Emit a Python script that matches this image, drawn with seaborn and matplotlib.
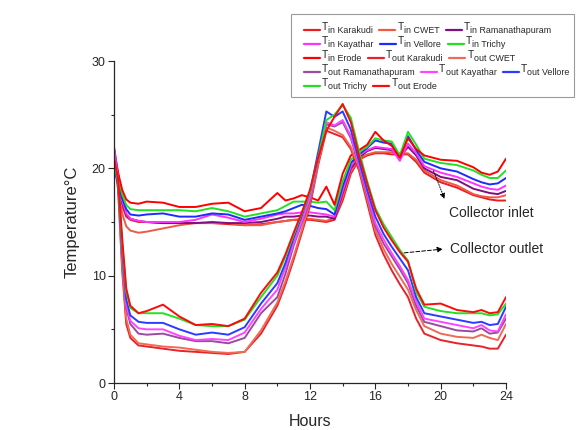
import numpy as np
import pandas as pd
import matplotlib
matplotlib.use("Agg")
import matplotlib.pyplot as plt
from matplotlib.lines import Line2D
from matplotlib.patches import Rectangle
import seaborn as sns

# time grid (hours)
hours = [0, 0.25, 0.5, 0.75, 1, 1.5, 2, 3, 4, 5, 6, 7, 8, 9, 10, 10.5, 11, 11.5, 12, 12.5,
         13, 13.5, 14, 14.5, 15, 15.5, 16, 16.5, 17, 17.5, 18, 18.5, 19, 20, 21, 22, 22.5, 23, 23.5, 24]

sites = ["Karakudi", "CWET", "Ramanathapuram", "Kayathar", "Vellore", "Trichy", "Erode"]

# collector inlet temperatures
tin_karakudi = [21.5, 19.0, 16.5, 15.5, 15.2, 15.0, 15.0, 14.9, 14.9, 14.9, 14.9, 14.8, 14.7, 14.8, 15.0, 15.1, 15.2, 15.2, 15.2, 15.1,
                15.0, 15.2, 17.0, 19.5, 20.8, 21.2, 21.4, 21.4, 21.3, 21.3, 21.3, 20.6, 19.6, 18.7, 18.2, 17.5, 17.3, 17.1, 17.0, 17.0]
tin_cwet = [21.0, 18.5, 15.8, 14.6, 14.2, 14.0, 14.1, 14.4, 14.7, 14.9, 14.9, 14.9, 14.7, 14.7, 15.0, 15.1, 15.2, 15.3, 15.3, 15.2,
            15.1, 15.4, 17.3, 19.7, 20.9, 21.3, 21.5, 21.5, 21.5, 21.4, 21.4, 20.8, 19.8, 18.9, 18.4, 17.6, 17.4, 17.3, 17.3, 17.5]
tin_ramanathapuram = [22.0, 19.5, 16.8, 15.7, 15.3, 15.1, 15.0, 14.9, 14.9, 14.9, 15.0, 14.9, 14.9, 15.0, 15.3, 15.5, 15.5, 15.6, 15.6, 15.5,
                      15.5, 15.3, 17.7, 20.0, 21.0, 21.6, 21.9, 21.8, 21.7, 21.0, 22.0, 21.2, 20.0, 19.2, 18.9, 18.1, 17.9, 17.7, 17.6, 17.9]
tin_kayathar = [21.8, 19.5, 17.0, 15.8, 15.3, 15.1, 15.0, 15.0, 15.0, 15.2, 15.7, 15.4, 15.0, 15.3, 15.7, 15.8, 15.8, 15.9, 15.9, 15.8,
                15.7, 15.5, 17.9, 20.2, 21.2, 21.7, 22.0, 21.9, 21.8, 20.7, 22.3, 21.4, 20.2, 19.6, 19.2, 18.6, 18.3, 18.1, 18.0, 18.4]
tin_vellore = [20.0, 18.8, 17.2, 16.2, 15.7, 15.6, 15.7, 15.8, 15.5, 15.5, 15.8, 15.7, 15.2, 15.5, 15.8, 16.0, 16.3, 16.6, 16.5, 16.3,
               16.2, 15.7, 18.3, 20.5, 21.3, 21.9, 22.6, 22.4, 22.3, 21.1, 23.0, 21.7, 20.6, 20.0, 19.7, 19.0, 18.7, 18.5, 18.6, 19.1]
tin_trichy = [20.4, 19.2, 17.6, 16.6, 16.2, 16.1, 16.1, 16.1, 16.1, 16.0, 16.3, 16.0, 15.5, 15.8, 16.1, 16.5, 16.9, 16.9, 16.9, 16.8,
              16.9, 16.1, 18.8, 20.8, 21.5, 22.0, 22.8, 22.6, 22.5, 21.2, 23.4, 22.2, 20.9, 20.5, 20.3, 19.8, 19.4, 19.1, 19.1, 19.8]
tin_erode = [21.2, 19.6, 18.0, 17.1, 16.8, 16.7, 16.9, 16.8, 16.4, 16.4, 16.7, 16.8, 16.0, 16.3, 17.7, 17.0, 17.2, 17.5, 17.3, 17.0,
             18.3, 16.6, 19.5, 21.2, 21.7, 22.2, 23.4, 22.6, 22.1, 21.0, 22.8, 21.8, 21.2, 20.8, 20.7, 20.1, 19.6, 19.4, 19.7, 20.9]

# collector outlet temperatures
tout_karakudi = [21.0, 18.0, 10.5, 5.5, 4.2, 3.5, 3.4, 3.2, 3.0, 2.9, 2.8, 2.7, 2.9, 4.6, 7.2, 9.2, 11.5, 14.0, 16.5, 20.3,
                 23.5, 23.2, 22.9, 21.8, 19.8, 16.8, 13.8, 12.0, 10.5, 9.2, 8.0, 6.0, 4.6, 4.0, 3.7, 3.5, 3.4, 3.2, 3.2, 4.5]
tout_cwet = [21.3, 18.5, 11.0, 6.0, 4.5, 3.7, 3.6, 3.4, 3.3, 3.1, 2.9, 2.8, 2.9, 4.9, 7.5, 9.5, 11.8, 14.3, 16.8, 20.5,
             23.8, 23.5, 23.1, 22.0, 20.1, 17.2, 14.2, 12.5, 11.1, 9.9, 8.7, 6.8, 5.3, 4.6, 4.3, 4.2, 4.5, 4.2, 4.0, 5.5]
tout_ramanathapuram = [21.8, 19.0, 12.0, 7.0, 5.5, 4.6, 4.5, 4.6, 4.2, 3.9, 3.9, 3.7, 4.2, 6.5, 8.0, 10.2, 12.8, 14.9, 17.0, 20.8,
                       24.1, 23.9, 24.3, 22.8, 20.3, 17.5, 14.6, 13.0, 11.8, 10.6, 9.3, 7.2, 5.7, 5.3, 4.9, 4.8, 5.1, 4.6, 4.7, 6.0]
tout_kayathar = [21.5, 19.0, 12.3, 7.3, 5.8, 5.1, 5.0, 5.0, 4.4, 4.0, 4.1, 4.0, 4.7, 6.9, 8.7, 10.8, 13.0, 15.1, 17.3, 21.0,
                 24.3, 24.0, 24.5, 23.0, 20.4, 17.7, 14.9, 13.4, 12.1, 10.9, 9.6, 7.6, 6.0, 5.7, 5.4, 5.1, 5.4, 4.9, 4.8, 6.4]
tout_vellore = [20.2, 18.5, 12.5, 7.8, 6.3, 5.7, 5.6, 5.6, 5.0, 4.5, 4.7, 4.5, 5.2, 7.4, 9.3, 11.2, 13.5, 15.6, 17.8, 21.5,
                25.3, 24.8, 25.3, 23.6, 20.7, 18.0, 15.5, 13.9, 12.7, 11.6, 10.5, 8.0, 6.5, 6.2, 5.9, 5.6, 5.7, 5.4, 5.5, 7.1]
tout_trichy = [20.5, 18.8, 13.0, 8.5, 7.0, 6.5, 6.5, 6.5, 6.0, 5.4, 5.3, 5.3, 5.9, 8.0, 10.0, 11.8, 13.8, 15.8, 17.8, 21.0,
               24.5, 25.0, 25.9, 24.7, 21.6, 18.8, 16.3, 14.8, 13.6, 12.4, 11.4, 8.5, 7.1, 6.7, 6.5, 6.5, 6.5, 6.3, 6.4, 7.4]
tout_erode = [21.0, 19.0, 13.5, 8.8, 7.2, 6.5, 6.7, 7.3, 6.2, 5.4, 5.5, 5.3, 6.0, 8.4, 10.3, 12.0, 14.0, 15.9, 18.0, 21.0,
              23.5, 24.8, 26.0, 24.3, 21.2, 18.6, 16.1, 14.5, 13.3, 12.2, 11.3, 8.8, 7.3, 7.4, 6.8, 6.6, 6.8, 6.5, 6.6, 8.0]

tin_series = [tin_karakudi, tin_cwet, tin_ramanathapuram, tin_kayathar, tin_vellore, tin_trichy, tin_erode]
tout_series = [tout_karakudi, tout_cwet, tout_ramanathapuram, tout_kayathar, tout_vellore, tout_trichy, tout_erode]

tin_colors = ["#ea1c24", "#f05a44", "#7e1080", "#ff33ff", "#1a2cff", "#22e022", "#ff0000"]
tout_colors = ["#e8222a", "#f06a55", "#9c4aa0", "#ff44ff", "#2a3cff", "#22e022", "#ff0a0a"]

sns.set_style("ticks")
plt.rcParams["font.family"] = ["Liberation Sans", "DejaVu Sans"]

W, H = 584, 430
fig = plt.figure(figsize=(W / 100, H / 100), dpi=100)
ax = fig.add_axes([114 / W, 1 - 383 / H, (506 - 114) / W, (383 - 61) / H])

entries = []
for name, vals, c in zip(sites, tin_series, tin_colors):
    entries.append(("in " + name, vals, c))
for name, vals, c in zip(sites, tout_series, tout_colors):
    entries.append(("out " + name, vals, c))

for label, vals, c in entries:
    df = pd.DataFrame({"Hours": hours, "Temp": vals})
    sns.lineplot(data=df, x="Hours", y="Temp", color=c, lw=1.4, ax=ax)

ax.set_xlim(0, 24)
ax.set_ylim(0, 30)
ax.set_xticks(np.arange(0, 25, 4))
ax.set_xticks(np.arange(2, 24, 4), minor=True)
ax.set_yticks([0, 10, 20, 30])
ax.set_yticks([5, 15, 25], minor=True)
ax.tick_params(axis="both", which="major", direction="out", length=4, width=0.8, labelsize=9, pad=2)
ax.tick_params(axis="both", which="minor", direction="out", length=2.5, width=0.8)
for s in ["top", "right"]:
    ax.spines[s].set_visible(False)
for s in ["left", "bottom"]:
    ax.spines[s].set_linewidth(0.9)
ax.set_xlabel("Hours", fontsize=11.5, labelpad=8)
ax.set_ylabel("Temperature°C", fontsize=12, labelpad=9)

# annotations
ax.annotate("", xy=(20.3, 16.9), xytext=(19.5, 20.0),
            arrowprops=dict(arrowstyle="-|>", color="black", lw=0.7, linestyle=(0, (1, 1.5)),
                            mutation_scale=8))
ax.text(20.5, 15.8, "Collector inlet", fontsize=10, va="center", ha="left")
ax.annotate("", xy=(20.3, 12.5), xytext=(17.6, 12.1),
            arrowprops=dict(arrowstyle="-|>", color="black", lw=0.7, linestyle=(0, (4, 2)),
                            mutation_scale=8))
ax.text(20.55, 12.5, "Collector outlet", fontsize=10, va="center", ha="left")

# legend: Origin-style flow layout, T raised and the rest of the label below it
renderer = fig.canvas.get_renderer()
rows = [[0, 1, 2], [3, 4, 5], [6, 7, 8], [9, 10, 11], [12, 13]]
row_y = [29.5, 43.5, 57.5, 71.5, 85.5]
for idx, yc in zip(rows, row_y):
    x = 303.5
    for i in idx:
        label, _, c = entries[i]
        fig.add_artist(Line2D([x / W, (x + 16) / W], [1 - yc / H, 1 - yc / H],
                              transform=fig.transFigure, color=c, lw=1.6))
        x += 18.2
        t = fig.text(x / W, 1 - (yc + 0.6) / H, "T", fontsize=7.4, va="baseline", ha="left")
        x += t.get_window_extent(renderer).width
        s = fig.text(x / W, 1 - (yc + 3.2) / H, label, fontsize=6.4, va="baseline", ha="left")
        x += s.get_window_extent(renderer).width + 6.5
fig.add_artist(Rectangle((291 / W, 1 - 97 / H), (574 - 291) / W, (97 - 14) / H,
                         transform=fig.transFigure, fill=False, edgecolor="#9a9a9a", lw=0.8))

fig.savefig("out.png", dpi=100, facecolor="white")
